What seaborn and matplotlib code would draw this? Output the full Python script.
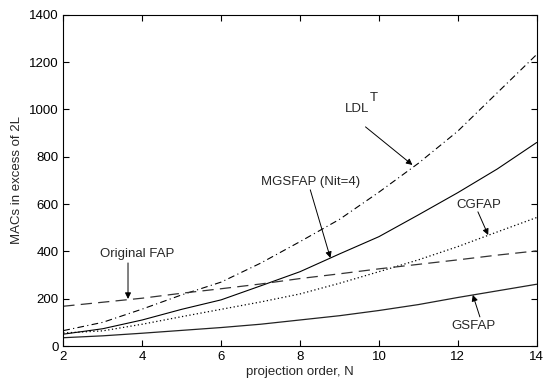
import matplotlib
matplotlib.use("Agg")
import matplotlib.pyplot as plt
import seaborn as sns
import pandas as pd

N = [2, 3, 4, 5, 6, 7, 8, 9, 10, 11, 12, 13, 14]
ldlt = [65, 100, 156, 216, 270, 350, 441, 535, 650, 772, 908, 1070, 1232]
mgsfap = [50, 73, 110, 155, 195, 254, 314, 389, 462, 554, 648, 748, 860]
cgfap = [55, 64, 92, 124, 155, 186, 220, 265, 314, 364, 420, 482, 543]
orig_fap = [168, 185, 202, 223, 242, 262, 285, 305, 326, 345, 364, 384, 402]
gsfap = [35, 43, 54, 66, 78, 92, 110, 128, 150, 175, 205, 233, 261]

x_ticks = [2, 4, 6, 8, 10, 12, 14]
y_ticks = [0, 200, 400, 600, 800, 1000, 1200, 1400]

sns.set_theme(style="white")
plt.rcParams['font.family'] = ['Liberation Sans', 'DejaVu Sans']

fig = plt.figure(figsize=(5.43, 3.83), dpi=100)
ax = fig.add_axes([0.1166, 0.0966, 0.8718, 0.865])

series = [
    (ldlt, dict(color="black", linestyle=(0, (6, 3, 1, 3)), linewidth=0.8)),
    (mgsfap, dict(color="black", linestyle="-", linewidth=0.8)),
    (cgfap, dict(color="black", linestyle=(0, (1, 2)), linewidth=0.9)),
    (orig_fap, dict(color="#333333", linestyle=(0, (9, 5)), linewidth=0.9)),
    (gsfap, dict(color="#222222", linestyle="-", linewidth=0.9)),
]
for vals, kw in series:
    df = pd.DataFrame({"N": N, "v": vals})
    sns.lineplot(data=df, x="N", y="v", ax=ax, **kw)

ax.set_xlim(2, 14)
ax.set_ylim(0, 1400)
ax.set_xticks(x_ticks)
ax.set_yticks(y_ticks)
ax.set_xticklabels([str(t) for t in x_ticks])
ax.set_yticklabels([str(t) for t in y_ticks])
ax.tick_params(direction="in", length=4, width=0.8, labelsize=9.5,
               top=True, right=True, bottom=True, left=True, colors="black")
for s in ax.spines.values():
    s.set_color("black")
    s.set_linewidth(0.8)
ax.set_xlabel("projection order, N", fontsize=9.5, labelpad=2)
ax.set_ylabel("MACs in excess of 2L", fontsize=9.5, labelpad=4)

arrow = dict(arrowstyle="-|>", color="black", lw=0.7, mutation_scale=9,
             shrinkA=0, shrinkB=0)
fs = 9.5

# labels
ax.text(9.14, 1000, "LDL", fontsize=fs, ha="left", va="center")
ax.text(9.76, 1050, "T", fontsize=fs, ha="left", va="center")
ax.text(8.26, 693, "MGSFAP (Nit=4)", fontsize=fs, ha="center", va="center")
ax.text(3.87, 389, "Original FAP", fontsize=fs, ha="center", va="center")
ax.text(12.54, 596, "CGFAP", fontsize=fs, ha="center", va="center")
ax.text(12.41, 85, "GSFAP", fontsize=fs, ha="center", va="center")

# arrows (start -> tip)
ax.annotate("", xy=(10.85, 765), xytext=(9.66, 926), arrowprops=arrow)
ax.annotate("", xy=(8.77, 372), xytext=(8.26, 660), arrowprops=arrow)
ax.annotate("", xy=(3.64, 199), xytext=(3.64, 351), arrowprops=arrow)
ax.annotate("", xy=(12.77, 469), xytext=(12.51, 567), arrowprops=arrow)
ax.annotate("", xy=(12.38, 216), xytext=(12.56, 123), arrowprops=arrow)

fig.savefig("out.png", dpi=100)
